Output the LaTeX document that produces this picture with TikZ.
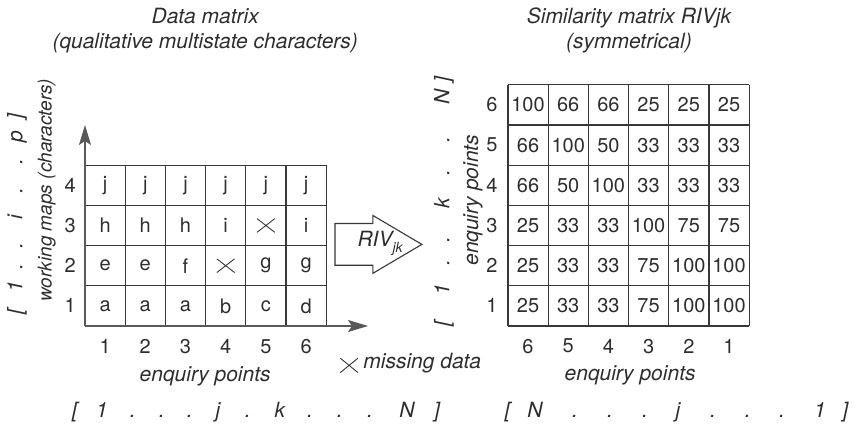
\documentclass[tikz,border=0pt]{standalone}
\usepackage{fontspec}
\setmainfont{TeX Gyre Heros}
\usetikzlibrary{arrows.meta}
\definecolor{linegray}{rgb}{0.22,0.22,0.22}
\definecolor{axisgray}{rgb}{0.35,0.35,0.35}
\definecolor{textgray}{rgb}{0.18,0.18,0.18}
\newcommand{\lblfont}{\fontsize{21}{25}\selectfont\itshape}
\newcommand{\cellfont}{\fontsize{20}{24}\selectfont}

\begin{document}
\begin{tikzpicture}[x=40.2pt,y=40.2pt,
    lbl/.style={font=\lblfont,text=textgray},
    val/.style={font=\cellfont,text=textgray},
    seq/.style={font=\lblfont,text=textgray,anchor=mid,inner sep=0pt},
    gridline/.style={line width=1.2pt,draw=linegray},
    axis/.style={line width=1.5pt,draw=axisgray,-{Stealth[length=20pt,width=12pt,inset=4pt]}},
    cross/.style={line width=0.9pt,draw=linegray}]
  \useasboundingbox (-2.114,-2.463) rectangle (19.104,8.109);

  % Data matrix:
  \node[lbl,align=center] (ttl-data) at (2.99,7.36) {Data matrix\\(qualitative multistate characters)};
  \draw[gridline,step={(1,1)}] (0,0) grid (6,4);
  \coordinate (O) at (0,0);
  \coordinate (ytip) at (0,5);
  \coordinate (xtip) at (7.04,0);
  \draw[axis] (O) -- (ytip);
  \draw[axis] (O) -- (xtip);
  \foreach \row [count=\y] in {{a,a,a,b,c,d},{e,e,f,{},g,g},{h,h,h,i,{},i},{j,j,j,j,j,j}}
    \foreach \c [count=\x] in \row
      \node[val] (d-\x-\y) at (\x-0.5,\y-0.5) {\c};
  \draw[cross] (d-4-2.center) +(-0.22,-0.17) -- +(0.22,0.17) (d-4-2.center) +(-0.22,0.17) -- +(0.22,-0.17);
  \draw[cross] (d-5-3.center) +(-0.22,-0.17) -- +(0.22,0.17) (d-5-3.center) +(-0.22,0.17) -- +(0.22,-0.17);
  \foreach \y in {1,...,4}
    \node[val] (row-\y) at (-0.37,\y-0.5) {\y};
  \foreach \x in {1,...,6}
    \node[val] (col-\x) at (\x-0.5,-0.52) {\x};
  \node[lbl] (ep-data) at (2.99,-1.26) {enquiry points};
  \node[lbl,rotate=90,font=\fontsize{19}{23}\selectfont\itshape] (wm) at (-0.95,3.38) {working maps (characters)};
  \foreach \c/\p [count=\i] in {[/-0.25,1/0.42,./1.19,./1.91,./2.61,j/3.31,./4.05,k/4.85,./5.6,./6.34,./7.09,N/8.01,]/8.76}
    \node[seq] (sx-\i) at (\p,-2.21) {\c};
  \foreach \c/\p [count=\i] in {[/0.35,1/0.97,./1.47,./2.01,i/2.71,./3.38,./4.08,p/4.70,]/5.22}
    \node[seq,rotate=90] (sy-\i) at (-1.62,\p) {\c};

  % RIV arrow:
  \draw[gridline,line width=1.1pt,fill=white] (6.22,1.51) -- (6.22,2.55) -- (7.16,2.55) -- (7.16,2.75)
    -- (8.38,2.03) -- (7.16,1.31) -- (7.16,1.51) -- cycle;
  \node[lbl] (riv) at (7.34,2.06) {RIV\raisebox{-6pt}{\fontsize{14}{14}\selectfont jk}};
  \coordinate (mx) at (6.57,-0.98);
  \draw[cross] (mx) +(-0.22,-0.18) -- +(0.22,0.18) (mx) +(-0.22,0.18) -- +(0.22,-0.18);
  \node[lbl,anchor=mid west,inner sep=0pt] (miss) at (6.92,-1.0) {missing data};

  % Similarity matrix:
  \begin{scope}[shift={(10.52,0)}]
    \node[lbl,align=center] (ttl-sim) at (3.01,7.36) {Similarity matrix RIVjk\\(symmetrical)};
    \draw[gridline,step={(1,1)}] (0,0) grid (6,6);
    \foreach \row [count=\y] in {{25,33,33,75,100,100},{25,33,33,75,100,100},{25,33,33,100,75,75},
        {66,50,100,33,33,33},{66,100,50,33,33,33},{100,66,66,25,25,25}}
      \foreach \c [count=\x] in \row
        \node[val] (s-\x-\y) at (\x-0.5,\y-0.5) {\c};
    \foreach \y in {1,...,6}
      \node[val] (srow-\y) at (-0.40,\y-0.5) {\y};
    \foreach \c [count=\x] in {6,5,4,3,2,1}
      \node[val] (scol-\x) at (\x-0.5,-0.5) {\c};
    \node[lbl] (ep-sim) at (3.04,-1.22) {enquiry points};
    \node[lbl,rotate=90] (ep-simv) at (-0.87,3.13) {enquiry points};
  \end{scope}
  \foreach \c/\p [count=\i] in {[/10.52,N/11.19,./12.19,./13.06,./13.93,j/14.75,./15.62,./16.49,./17.34,1/18.28,]/18.91}
    \node[seq] (tx-\i) at (\p,-2.21) {\c};
  \foreach \c/\p [count=\i] in {[/0.07,1/0.9,./1.57,./2.14,k/3.06,./3.81,./4.63,N/5.70,]/6.14}
    \node[seq,rotate=90] (ty-\i) at (9.0,\p) {\c};
\end{tikzpicture}
\end{document}
